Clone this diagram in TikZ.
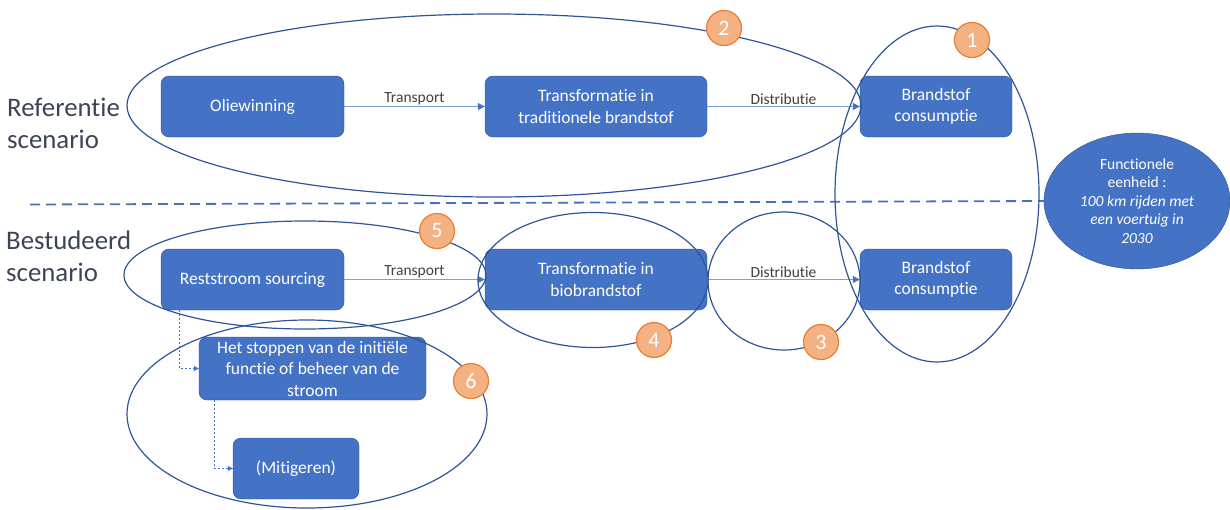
\documentclass[tikz,border=0pt]{standalone}
\usepackage{fontspec}
\setmainfont{Carlito}[Ligatures={NoCommon,NoRequired}]
\usepackage{xcolor}
\usepackage{tikz}
\usetikzlibrary{arrows.meta,shapes.geometric}

\definecolor{boxblue}{HTML}{4472C4}
\definecolor{boxedge}{HTML}{2F528F}
\definecolor{ringblue}{HTML}{2F5597}
\definecolor{flowblue}{HTML}{7EA0D8}
\definecolor{badgefill}{HTML}{F4B183}
\definecolor{badgeedge}{HTML}{ED7D31}
\definecolor{labelgray}{HTML}{404040}
\definecolor{scengray}{HTML}{3B4556}

\begin{document}
\begin{tikzpicture}[x=1pt, y=-1pt, >={Triangle[length=7pt,width=7pt]},
  box/.style = {draw=boxedge, fill=boxblue, rounded corners=8pt, text=white, align=center, font=\fontsize{17.5}{21.5}\selectfont, minimum height=61pt, inner sep=0pt},
  group/.style = {draw=ringblue, line width=1.2pt, ellipse, inner sep=0pt},
  badge/.style = {draw=badgeedge, fill=badgefill, line width=1.2pt, circle, minimum size=35pt, inner sep=0pt, text=white, font=\fontsize{22}{22}\selectfont},
  flow/.style = {->, draw=flowblue, line width=1pt, >={Triangle[length=7pt,width=7pt,fill=boxblue,color=boxblue]}},
  dep/.style = {->, draw=boxblue, line width=0.6pt, dash pattern=on 2pt off 2pt, >={Triangle[length=5pt,width=5pt,fill=boxblue,color=boxblue]}},
  scen/.style = {align=left, anchor=west, text=scengray, inner sep=0pt, font=\fontsize{26.8}{32}\selectfont},
  lbl/.style = {text=labelgray, font=\fontsize{15.5}{17}\selectfont, inner sep=1.5pt}]
\useasboundingbox (0,0) rectangle (1230,509);

% scenarios
\node[scen] (ref) at (7,123) {Referentie\\scenario};
\node[scen] (bes) at (6,256) {Bestudeerd\\scenario};

% referentie chain
\node[box, minimum width=183pt] (ow) at (252.5,106.5) {Oliewinning};
\node[box, minimum width=222pt] (tt) at (596,106.5) {Transformatie in\\traditionele brandstof};
\node[box, minimum width=152pt] (bc1) at (936,106.5) {Brandstof\\consumptie};
\draw[flow] (ow) -- node[lbl, above] {Transport} (tt);
\draw[flow] (tt) -- node[lbl, above] {Distributie} (bc1);

% bestudeerd chain
\node[box, minimum width=183pt] (rs) at (252.5,279.5) {Reststroom sourcing};
\node[box, minimum width=222pt] (tb) at (596,279.5) {Transformatie in\\biobrandstof};
\node[box, minimum width=152pt] (bc2) at (936,279.5) {Brandstof\\consumptie};
\node[box, minimum width=227pt, minimum height=63pt] (hs) at (312.5,368.5) {Het stoppen van de initiële\\functie of beheer van de\\stroom};
\node[box, minimum width=126pt] (mi) at (296,468.5) {(Mitigeren)};
\draw[flow] (rs) -- node[lbl, above] {Transport} (tb);
\draw[flow] (tb) -- node[lbl, above] {Distributie} (bc2);
\draw[dep] ([xshift=18pt]rs.south west) |- (hs.west);
\draw[dep] ([xshift=15pt]hs.south west) |- (mi.west);

% functionele eenheid
\node[ellipse, draw=boxedge, fill=boxblue, text=white, align=center, minimum width=186pt, minimum height=136pt, inner sep=0pt, font=\fontsize{15.5}{18.5}\selectfont] (fe) at (1137,201) {Functionele\\eenheid :\\\textit{100 km rijden met}\\\textit{een voertuig in}\\\textit{2030}};
\coordinate (dl) at (30,204.5);
\draw[boxblue, line width=1.8pt, dash pattern=on 10pt off 6pt] (dl) -- (fe.west);

% groups
\node[group, minimum width=734pt, minimum height=183pt] (g2) at (494,105.5) {};
\node[group, minimum width=204pt, minimum height=336pt] (g1) at (937,194) {};
\node[group, minimum width=362pt, minimum height=108pt] (g5) at (305,275) {};
\node[group, minimum width=230pt, minimum height=135pt] (g4) at (593,280) {};
\node[group, minimum width=152pt, minimum height=138pt] (g3) at (784,281) {};
\node[group, minimum width=360pt, minimum height=188pt] (g6) at (307,414) {};

% badges
\node[badge] (b1) at (972,40) {1};
\node[badge] (b2) at (724,28) {2};
\node[badge] (b3) at (821,342) {3};
\node[badge] (b4) at (654,340) {4};
\node[badge] (b5) at (437,231) {5};
\node[badge] (b6) at (471,381) {6};
\end{tikzpicture}
\end{document}
